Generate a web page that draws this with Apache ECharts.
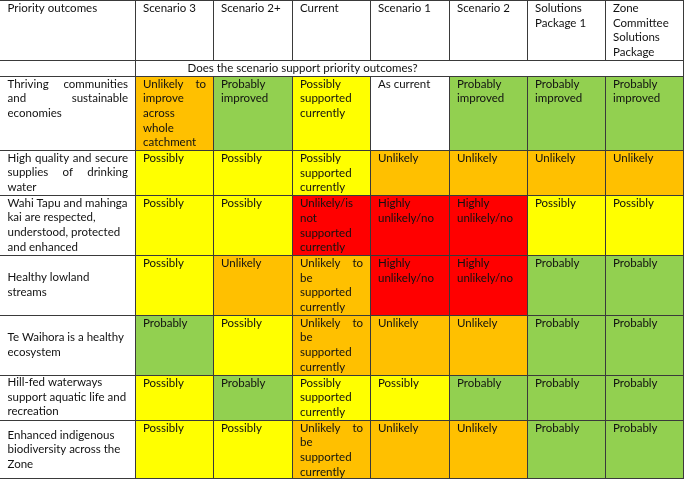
<!DOCTYPE html>
<html><head><meta charset="utf-8">
<script src="https://cdn.jsdelivr.net/npm/echarts@6/dist/echarts.min.js"></script>
<style>html,body{margin:0;padding:0;background:#fff}#c{width:685px;height:480px}</style>
</head><body><div id="c"></div><script>
// ---------------- data ----------------
const headerTitle = 'Priority outcomes';
const scenarios = ['Scenario 3', 'Scenario 2+', 'Current', 'Scenario 1', 'Scenario 2',
  'Solutions\nPackage 1', 'Zone\nCommittee\nSolutions\nPackage'];
const subheading = 'Does the scenario support priority outcomes?';
const outcomes = [
  'Thriving communities\nand sustainable\neconomies',
  'High quality and secure\nsupplies of drinking\nwater',
  'Wahi Tapu and mahinga\nkai are respected,\nunderstood, protected\nand enhanced',
  'Healthy lowland\nstreams',
  'Te Waihora is a healthy\necosystem',
  'Hill-fed waterways\nsupport aquatic life and\nrecreation',
  'Enhanced indigenous\nbiodiversity across the\nZone'
];
const scenario3 = ['Unlikely to\nimprove\nacross\nwhole\ncatchment', 'Possibly', 'Possibly', 'Possibly', 'Probably', 'Possibly', 'Possibly'];
const scenario2plus = ['Probably\nimproved', 'Possibly', 'Possibly', 'Unlikely', 'Possibly', 'Probably', 'Possibly'];
const currentState = ['Possibly\nsupported\ncurrently', 'Possibly\nsupported\ncurrently', 'Unlikely/is\nnot\nsupported\ncurrently',
  'Unlikely to\nbe\nsupported\ncurrently', 'Unlikely to\nbe\nsupported\ncurrently', 'Possibly\nsupported\ncurrently',
  'Unlikely to\nbe\nsupported\ncurrently'];
const scenario1 = ['As current', 'Unlikely', 'Highly\nunlikely/no', 'Highly\nunlikely/no', 'Unlikely', 'Possibly', 'Unlikely'];
const scenario2 = ['Probably\nimproved', 'Unlikely', 'Highly\nunlikely/no', 'Highly\nunlikely/no', 'Unlikely', 'Probably', 'Unlikely'];
const solutionsPackage1 = ['Probably\nimproved', 'Unlikely', 'Possibly', 'Probably', 'Probably', 'Probably', 'Probably'];
const zoneCommitteePackage = ['Probably\nimproved', 'Unlikely', 'Possibly', 'Probably', 'Probably', 'Probably', 'Probably'];
const ratingColumns = [scenario3, scenario2plus, currentState, scenario1, scenario2, solutionsPackage1, zoneCommitteePackage];

// ---------------- layout / style ----------------
const FONT_SIZE = 11.5, FONT_FAMILY = 'Lato', TEXT_COLOR = '#111111', LINE_COLOR = '#3a3a3a';
const LINE_H = 14.7, PAD_X = 7.5, PAD_Y = 1;
const colWidths = [135.5, 78, 79, 78, 79, 78, 78, 78.5];
const outcomeValign = ['top', 'middle', 'middle', 'middle', 'middle', 'middle', 'middle'];
const outcomeJustify = [true, true, false, false, false, false, false];
const SUB_OFFSET = 52;
const levelColors = { green: '#92D050', yellow: '#FFFF00', orange: '#FFC000', red: '#FF0000', none: '#FFFFFF' };
function levelOf(t) {
  if (t.startsWith('Probably')) return 'green';
  if (t.startsWith('Possibly')) return 'yellow';
  if (t.startsWith('Highly') || t.startsWith('Unlikely/is')) return 'red';
  if (t.startsWith('Unlikely')) return 'orange';
  return 'none';
}
const nLines = s => s.split('\n').length;
const rowLineCounts = [Math.max(nLines(headerTitle), ...scenarios.map(nLines)), 1,
  ...outcomes.map((o, i) => Math.max(nLines(o), ...ratingColumns.map(c => nLines(c[i]))))];
const rowEdges = [0];
rowLineCounts.forEach(n => rowEdges.push(rowEdges[rowEdges.length - 1] + n * LINE_H + 1));
const colEdges = [0];
colWidths.forEach(w => colEdges.push(colEdges[colEdges.length - 1] + w));
const lastRow = rowLineCounts.length - 1;

// cells
const cells = [];
function addCell(c0, c1, r, text, opts) {
  cells.push(Object.assign({ c0, c1, r, text, fill: null, justify: false, valign: 'top', offset: PAD_X }, opts || {}));
}
addCell(0, 1, 0, headerTitle);
scenarios.forEach((s, j) => addCell(j + 1, j + 2, 0, s));
addCell(0, 1, 1, '');
addCell(1, 8, 1, subheading, { offset: SUB_OFFSET });
outcomes.forEach((o, i) => {
  addCell(0, 1, i + 2, o, { justify: outcomeJustify[i], valign: outcomeValign[i] });
  ratingColumns.forEach((col, j) => {
    const lv = levelOf(col[i]);
    addCell(j + 1, j + 2, i + 2, col[i], { fill: lv === 'none' ? null : levelColors[lv], justify: true });
  });
});

const measureCtx = document.createElement('canvas').getContext('2d');
measureCtx.font = FONT_SIZE + 'px ' + FONT_FAMILY;
const tw = s => measureCtx.measureText(s).width;

const data = cells.map(c => [colEdges[c.c0], colEdges[c.c1], rowEdges[c.r], rowEdges[c.r + 1]]);

function textEl(str, x, y) {
  return { type: 'text', style: { text: str, x: x, y: y, fill: TEXT_COLOR, fontSize: FONT_SIZE,
    fontFamily: FONT_FAMILY, verticalAlign: 'middle', align: 'left' } };
}

function renderCell(params, api) {
  const c = cells[params.dataIndex];
  const p0 = api.coord([api.value(0), api.value(2)]);
  const p1 = api.coord([api.value(1), api.value(3)]);
  const x0 = Math.round(p0[0]), x1 = Math.round(p1[0]), y0 = Math.round(p0[1]), y1 = Math.round(p1[1]);
  const children = [];
  if (c.fill) children.push({ type: 'rect', shape: { x: x0, y: y0, width: x1 - x0, height: y1 - y0 }, style: { fill: c.fill } });
  const lines = c.text ? c.text.split('\n') : [];
  let top = p0[1] + PAD_Y;
  if (c.valign === 'middle') top = p0[1] + ((p1[1] - p0[1]) - lines.length * LINE_H) / 2;
  const left = p0[0] + c.offset, avail = (p1[0] - p0[0]) - 2 * PAD_X;
  lines.forEach((ln, k) => {
    const y = top + k * LINE_H + LINE_H / 2;
    const words = ln.split(' ');
    if (c.justify && k < lines.length - 1 && words.length > 1) {
      const total = words.reduce((a, w) => a + tw(w), 0);
      const gap = (avail - total) / (words.length - 1);
      let x = left;
      words.forEach(w => { children.push(textEl(w, x, y)); x += tw(w) + gap; });
    } else {
      children.push(textEl(ln, left, y));
    }
  });
  return { type: 'group', children };
}

function renderLines(params, api) {
  const c = cells[params.dataIndex];
  const p0 = api.coord([api.value(0), api.value(2)]);
  const p1 = api.coord([api.value(1), api.value(3)]);
  const x0 = Math.round(p0[0]), x1 = Math.round(p1[0]), y0 = Math.round(p0[1]), y1 = Math.round(p1[1]);
  const st = { stroke: LINE_COLOR, lineWidth: 1 };
  const children = [
    { type: 'line', shape: { x1: x0, y1: y0 + 0.5, x2: x1, y2: y0 + 0.5 }, style: st },
    { type: 'line', shape: { x1: x1 - 0.5, y1: y0, x2: x1 - 0.5, y2: y1 }, style: st }
  ];
  if (c.r === lastRow) children.push({ type: 'line', shape: { x1: x0, y1: y1 - 0.5, x2: x1, y2: y1 - 0.5 }, style: st });
  return { type: 'group', children };
}

const chart = echarts.init(document.getElementById('c'), null, { renderer: 'canvas' });
chart.setOption({
  animation: false,
  backgroundColor: '#ffffff',
  grid: { left: 0, right: 0, top: 0, bottom: 0 },
  xAxis: { type: 'value', min: 0, max: 685, show: false },
  yAxis: { type: 'value', min: 0, max: 480, inverse: true, show: false },
  series: [
    { type: 'custom', data: data, renderItem: renderCell, silent: true, z: 1 },
    { type: 'custom', data: data, renderItem: renderLines, silent: true, z: 2 }
  ]
});
</script></body></html>
